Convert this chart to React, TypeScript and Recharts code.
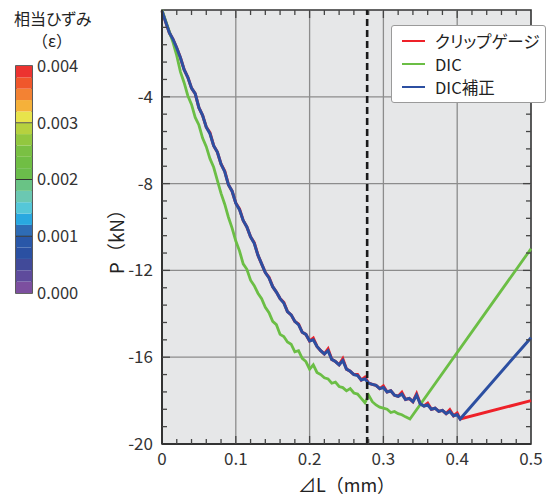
import React from "react";
import {
  ComposedChart,
  Line,
  XAxis,
  YAxis,
  CartesianGrid,
  ReferenceLine,
  ReferenceArea,
  Legend,
  Label,
  BarChart,
  Bar,
} from "recharts";

const FONT = "'Noto Sans CJK JP', 'Noto Sans', sans-serif";

// clip gauge / DIC corrected share the same displacement samples
const mainX = [
  0, 0.005, 0.01, 0.015, 0.02, 0.025, 0.03, 0.035, 0.04, 0.045, 0.05, 0.055, 0.06, 0.065, 0.07, 0.075,
  0.08, 0.085, 0.09, 0.095, 0.1, 0.105, 0.11, 0.115, 0.12, 0.125, 0.13, 0.135, 0.14, 0.145, 0.15, 0.155,
  0.16, 0.165, 0.17, 0.175, 0.18, 0.185, 0.19, 0.195, 0.2, 0.205, 0.21, 0.215, 0.22, 0.225, 0.23, 0.235,
  0.24, 0.245, 0.25, 0.255, 0.26, 0.265, 0.27, 0.275, 0.28, 0.285, 0.29, 0.295, 0.3, 0.305, 0.31, 0.315,
  0.32, 0.325, 0.33, 0.335, 0.34, 0.345, 0.35, 0.355, 0.36, 0.365, 0.37, 0.375, 0.38, 0.385, 0.39, 0.395,
  0.4, 0.404, 0.5,
];

const blueY = [
  -0.05, -0.55, -1.05, -1.35, -1.75, -2.2, -2.75, -3.1, -3.6, -3.85, -4.5, -4.85, -5.4, -5.7, -6.25, -6.55,
  -7.1, -7.45, -8.05, -8.35, -8.9, -9.2, -9.7, -10.0, -10.45, -10.75, -11.3, -11.7, -12.1, -12.35, -12.75, -13.0,
  -13.3, -13.5, -13.9, -14.05, -14.35, -14.5, -14.85, -14.95, -15.25, -15.2, -15.5, -15.7, -15.85, -15.7, -16.1, -16.2,
  -16.35, -16.15, -16.55, -16.65, -16.8, -16.85, -17.05, -17.0, -17.2, -17.25, -17.3, -17.45, -17.4, -17.6, -17.55, -17.75,
  -17.8, -17.7, -17.95, -17.9, -18.05, -17.75, -18.15, -18.25, -18.2, -18.4, -18.35, -18.5, -18.45, -18.6, -18.5, -18.7,
  -18.65, -18.85, -15.1,
];

const redY = [
  -0.05, -0.55, -1.05, -1.35, -1.75, -2.2, -2.75, -3.1, -3.6, -3.85, -4.5, -4.85, -5.4, -5.65, -6.25, -6.55,
  -7.1, -7.42, -8.05, -8.35, -8.9, -9.17, -9.7, -10.0, -10.45, -10.72, -11.3, -11.7, -12.1, -12.32, -12.75, -13.0,
  -13.3, -13.47, -13.9, -14.05, -14.35, -14.47, -14.85, -14.95, -15.25, -15.12, -15.5, -15.7, -15.85, -15.62, -16.1, -16.2,
  -16.35, -16.07, -16.55, -16.65, -16.8, -16.8, -17.05, -16.92, -17.2, -17.25, -17.3, -17.45, -17.32, -17.6, -17.55, -17.75,
  -17.8, -17.62, -17.95, -17.9, -18.05, -17.68, -18.15, -18.25, -18.12, -18.4, -18.35, -18.5, -18.45, -18.6, -18.42, -18.7,
  -18.57, -18.85, -18.0,
];

const greenX = [
  0, 0.005, 0.01, 0.015, 0.02, 0.025, 0.03, 0.035, 0.04, 0.045, 0.05, 0.055, 0.06, 0.065, 0.07, 0.075,
  0.08, 0.085, 0.09, 0.095, 0.1, 0.105, 0.11, 0.115, 0.12, 0.125, 0.13, 0.135, 0.14, 0.145, 0.15, 0.155,
  0.16, 0.165, 0.17, 0.175, 0.18, 0.185, 0.19, 0.195, 0.2, 0.205, 0.21, 0.215, 0.22, 0.225, 0.23, 0.235,
  0.24, 0.245, 0.25, 0.255, 0.26, 0.265, 0.27, 0.275, 0.28, 0.285, 0.29, 0.295, 0.3, 0.305, 0.31, 0.315,
  0.32, 0.325, 0.33, 0.336, 0.5,
];

const greenY = [
  0, -0.5, -1.0, -1.5, -2.1, -2.85, -3.35, -3.95, -4.35, -4.95, -5.3, -5.9, -6.3, -6.85, -7.25, -7.85,
  -8.45, -8.95, -9.55, -10.05, -10.65, -11.1, -11.7, -11.95, -12.45, -12.7, -13.05, -13.3, -13.7, -13.95, -14.35, -14.5,
  -14.95, -15.05, -15.3, -15.4, -15.75, -15.7, -16.05, -16.2, -16.55, -16.35, -16.7, -16.8, -16.95, -17.0, -17.2, -17.15,
  -17.35, -17.4, -17.55, -17.45, -17.65, -17.7, -17.9, -18.1, -17.75, -18.05, -18.2, -18.3, -18.35, -18.4, -18.55, -18.5,
  -18.6, -18.65, -18.75, -18.85, -11.0,
];

const seriesNames = ["クリップゲージ", "DIC", "DIC補正"];

const xTicks = [0, 0.1, 0.2, 0.3, 0.4, 0.5];
const yTicks = [-4, -8, -12, -16, -20];
const xMinor = Array.from({ length: 24 }, (_, i) => Math.round((i + 1) * 2) / 100).filter((v) => Math.round(v * 100) % 10 !== 0);
const yMinor = Array.from({ length: 24 }, (_, i) => -Math.round((i + 1) * 8) / 10).filter((_, i) => (i + 1) % 5 !== 0);
const xGrid = [0.1, 0.2, 0.3, 0.4];
const yGrid = [-4, -8, -12, -16];
const dashedX = 0.278;

// colour bar, listed bottom (0.000) to top (0.004)
const cbColors = [
  "#7C4F9F", "#5E4B9C", "#414A99", "#2A50A2", "#2957A8", "#2E6CB5", "#29A8E0", "#55C7D8", "#6BC8B2", "#69C385",
  "#6BBD4B", "#70BE44", "#7AC043", "#92C73F", "#B6D13F", "#E8E44B", "#F5B13A", "#F38233", "#F0572B", "#EC3330",
];
const cbBands = [
  0.0002, 0.0002, 0.0002, 0.0002, 0.0002, 0.0002, 0.0002, 0.0002, 0.0002, 0.0002,
  0.0002, 0.0002, 0.0002, 0.0002, 0.0002, 0.0002, 0.0002, 0.0002, 0.0002, 0.0002,
];
const cbTicks = [0, 0.001, 0.002, 0.003, 0.004];

const RED = "#EE2129";
const GREEN = "#6BBE45";
const BLUE = "#2C4FA1";

const blueData = mainX.map((x, i) => ({ x, y: blueY[i] }));
const redData = mainX.map((x, i) => ({ x, y: redY[i] }));
const greenData = greenX.map((x, i) => ({ x, y: greenY[i] }));
const cbRow = [cbBands.reduce((o, v, i) => ({ ...o, [`s${i}`]: v }), { name: "eps" } as Record<string, any>)];

// layout of the main plot
const W = 549;
const H = 496;
const MARGIN = { top: 10, right: 18, bottom: 0, left: 74 };
const PLOT_TOP = MARGIN.top;
const PLOT_RIGHT = W - MARGIN.right;
const TICK_GAP = 9;
const MAJOR_LEN = 8;
const MINOR_LEN = 5;
const TICK_COLOR = "#444";

const allXTicks = [...xTicks, ...xMinor].sort((a, b) => a - b);
const allYTicks = [...yTicks, ...yMinor].sort((a, b) => a - b);

// x tick: inward marks on bottom and top edges, label only on majors
const XTick = (props: any) => {
  const { x, y, payload } = props;
  const v = payload.value;
  const isMajor = xTicks.includes(v);
  const edge = y - TICK_GAP;
  const len = isMajor ? MAJOR_LEN : MINOR_LEN;
  const inner = v > 0 && v < 0.5;
  return (
    <g>
      {inner && <line x1={x} x2={x} y1={edge} y2={edge - len} stroke={TICK_COLOR} strokeWidth={1.3} />}
      {inner && <line x1={x} x2={x} y1={PLOT_TOP} y2={PLOT_TOP + len} stroke={TICK_COLOR} strokeWidth={1.3} />}
      {isMajor && (
        <text x={x} y={y} dy="0.71em" textAnchor="middle" style={{ fontSize: 17, fill: "#333", fontFamily: FONT }}>
          {v === 0 ? "0" : String(v)}
        </text>
      )}
    </g>
  );
};

const YTick = (props: any) => {
  const { x, y, payload } = props;
  const v = payload.value;
  const isMajor = yTicks.includes(v);
  const edge = x + TICK_GAP;
  const len = isMajor ? MAJOR_LEN : MINOR_LEN;
  const inner = v > -20 && v < 0;
  return (
    <g>
      {inner && <line x1={edge} x2={edge + len} y1={y} y2={y} stroke={TICK_COLOR} strokeWidth={1.3} />}
      {inner && <line x1={PLOT_RIGHT} x2={PLOT_RIGHT - len} y1={y} y2={y} stroke={TICK_COLOR} strokeWidth={1.3} />}
      {isMajor && (
        <text x={x} y={y} dy="0.355em" textAnchor="end" style={{ fontSize: 17, fill: "#333", fontFamily: FONT }}>
          {String(v)}
        </text>
      )}
    </g>
  );
};

const renderLegend = (props: any) => {
  const items = [...(props.payload || [])].sort(
    (a: any, b: any) => seriesNames.indexOf(a.value) - seriesNames.indexOf(b.value)
  );
  return (
    <div
      style={{
        background: "#fff",
        border: "1px solid #9a9a9a",
        borderRadius: 3,
        padding: "3px 0 3px 10px",
        width: 155,
        boxSizing: "border-box",
        fontFamily: FONT,
        fontSize: 16.5,
        fontFeatureSettings: '"palt"',
        color: "#222",
      }}
    >
      {items.map((p: any) => (
        <div key={p.value} style={{ display: "flex", alignItems: "center", height: 23.3 }}>
          <span style={{ display: "inline-block", width: 23, height: 2, background: p.color, marginRight: 10 }} />
          {p.value}
        </div>
      ))}
    </div>
  );
};

const renderYTitle = (p: any) => {
  const vb = p.viewBox || { x: 0, y: 0, width: 0, height: 0 };
  const cx = vb.x + vb.width / 2 - 3;
  const cy = vb.y + vb.height / 2 + 10;
  return (
    <text
      x={cx}
      y={cy}
      transform={`rotate(-90 ${cx} ${cy})`}
      textAnchor="middle"
      dominantBaseline="central"
      style={{ fontSize: 19, fill: "#222", fontFamily: FONT }}
    >
      P（kN）
    </text>
  );
};

function ColorBar() {
  return (
    <div style={{ position: "absolute", left: 0, top: 0 }}>
      <div
        style={{
          position: "absolute",
          left: 14,
          top: 9,
          width: 80,
          fontFamily: FONT,
          fontSize: 16,
          fontFeatureSettings: '"palt"',
          lineHeight: "18px",
          color: "#222",
          whiteSpace: "nowrap",
        }}
      >
        相当ひずみ
      </div>
      <div
        style={{
          position: "absolute",
          left: 14,
          top: 31,
          width: 76,
          textAlign: "center",
          fontFamily: FONT,
          fontSize: 16,
          lineHeight: "18px",
          color: "#222",
        }}
      >
        （ε）
      </div>
      <BarChart
        width={100}
        height={310}
        data={cbRow}
        margin={{ top: 66, right: 18, bottom: 17, left: 16 }}
        barCategoryGap={0}
        barGap={0}
      >
        <XAxis dataKey="name" hide />
        <YAxis
          orientation="right"
          type="number"
          domain={[0, 0.004]}
          allowDataOverflow
          ticks={cbTicks}
          interval={0}
          width={50}
          tickFormatter={(v: number) => v.toFixed(3)}
          tickLine={false}
          axisLine={false}
          tickSize={0}
          tickMargin={5}
          tick={{ fontSize: 16.5, fill: "#333", fontFamily: FONT }}
        />
        {cbColors.map((c, i) => (
          <Bar key={c} dataKey={`s${i}`} stackId="cb" fill={c} isAnimationActive={false} />
        ))}
        <ReferenceLine y={0.001} stroke="#333" strokeWidth={1} />
        <ReferenceLine y={0.002} stroke="#333" strokeWidth={1} />
        <ReferenceLine y={0.003} stroke="#555" strokeWidth={1} />
        <ReferenceArea y1={0} y2={0.004} fill="none" stroke="#333" strokeWidth={1.6} />
      </BarChart>
    </div>
  );
}

export default function App() {
  return (
    <div style={{ position: "absolute", left: 0, top: 0, width: W, height: H, background: "#fff" }}>
      <div style={{ position: "absolute", left: 0, top: 0 }}>
        <ComposedChart width={W} height={H} margin={MARGIN}>
          <CartesianGrid fill="#E6E7E8" fillOpacity={1} horizontal={false} vertical={false} />
          {xGrid.map((v) => (
            <ReferenceLine key={`gx${v}`} x={v} stroke="#8c8c8c" strokeWidth={1.3} />
          ))}
          {yGrid.map((v) => (
            <ReferenceLine key={`gy${v}`} y={v} stroke="#8c8c8c" strokeWidth={1.3} />
          ))}

          <XAxis
            dataKey="x"
            type="number"
            domain={[0, 0.5]}
            ticks={allXTicks}
            interval={0}
            height={52}
            tickLine={false}
            tickSize={0}
            tickMargin={TICK_GAP}
            axisLine={{ stroke: "#333", strokeWidth: 2 }}
            tick={<XTick />}
          >
            <Label value="⊿L（mm）" position="insideBottom" offset={4} style={{ fontSize: 18, fill: "#222", fontFamily: FONT }} />
          </XAxis>
          <YAxis
            type="number"
            domain={[-20, 0]}
            ticks={allYTicks}
            interval={0}
            width={88}
            tickLine={false}
            tickSize={0}
            tickMargin={TICK_GAP}
            axisLine={{ stroke: "#333", strokeWidth: 2 }}
            tick={<YTick />}
          >
            <Label content={renderYTitle} />
          </YAxis>

          <Line data={redData} dataKey="y" name={seriesNames[0]} stroke={RED} strokeWidth={3} dot={false} isAnimationActive={false} />
          <Line data={greenData} dataKey="y" name={seriesNames[1]} stroke={GREEN} strokeWidth={2.8} dot={false} isAnimationActive={false} />
          <Line data={blueData} dataKey="y" name={seriesNames[2]} stroke={BLUE} strokeWidth={3} dot={false} isAnimationActive={false} />

          <ReferenceLine x={dashedX} stroke="#1a1a1a" strokeWidth={2.6} strokeDasharray="7 4" />
          <ReferenceArea x1={0} x2={0.5} y1={-20} y2={0} fill="none" stroke="#333" strokeWidth={1.6} />

          <Legend
            layout="vertical"
            align="center"
            verticalAlign="middle"
            content={renderLegend}
            wrapperStyle={{ top: 25, left: 391, width: 155 }}
          />
        </ComposedChart>
      </div>
      <ColorBar />
    </div>
  );
}
